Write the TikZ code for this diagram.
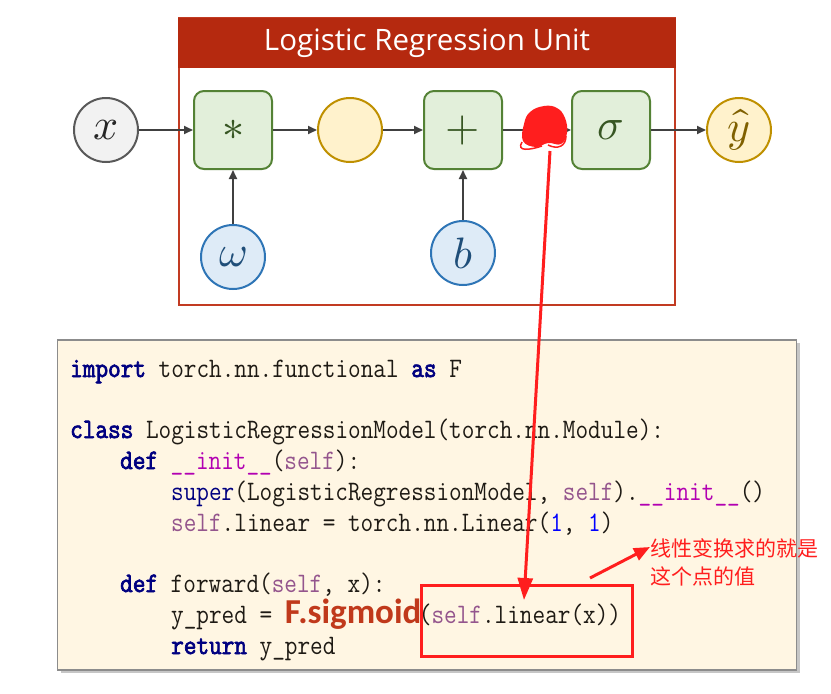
\documentclass[tikz,border=0pt]{standalone}
\usepackage{fontspec}
\usepackage{unicode-math}
\setmathfont{Latin Modern Math}
\newfontfamily\titlefont{Open Sans}
\newfontfamily\codefont[FakeStretch=0.87, BoldFont={Latin Modern Mono},
  BoldFeatures={FakeBold=2.5}]{Latin Modern Mono}
\newfontfamily\sigfont{Carlito}
\newfontfamily\cjk{Noto Sans CJK SC}
\usetikzlibrary{positioning,arrows.meta,shadows}

\definecolor{unitred}{HTML}{B5290F}
\definecolor{unitedge}{HTML}{C23B22}
\definecolor{opfill}{HTML}{E2EFDA}
\definecolor{opedge}{HTML}{548235}
\definecolor{optext}{HTML}{375623}
\definecolor{linfill}{HTML}{FFF2CC}
\definecolor{linedge}{HTML}{BF9000}
\definecolor{outtext}{HTML}{7F6000}
\definecolor{parfill}{HTML}{DEEBF7}
\definecolor{paredge}{HTML}{2E75B6}
\definecolor{partext}{HTML}{1F4E79}
\definecolor{infill}{HTML}{F2F2F2}
\definecolor{inedge}{HTML}{595959}
\definecolor{intext}{HTML}{262626}
\definecolor{arrgray}{HTML}{404040}
\definecolor{codebg}{HTML}{FFF6E3}
\definecolor{codeedge}{HTML}{8C8C8C}
\definecolor{codetext}{HTML}{1E1A14}
\definecolor{kwblue}{HTML}{000080}
\definecolor{selfpurple}{HTML}{94558D}
\definecolor{magic}{HTML}{B200B2}
\definecolor{numblue}{HTML}{0000FF}
\definecolor{sigred}{HTML}{C0391B}
\definecolor{markred}{HTML}{FF1E1E}

% code colouring
\newcommand\kw[1]{\textcolor{kwblue}{\bfseries #1}}
\newcommand\slf{\textcolor{selfpurple}{self}}
\newcommand\mgc[1]{\textcolor{magic}{#1}}
\newcommand\numlit[1]{\textcolor{numblue}{#1}}

\begin{document}
\begin{tikzpicture}[x=1pt, y=-1pt,
    op/.style   ={draw=opedge, fill=opfill, line width=2pt, rounded corners=10pt,
                  minimum width=78pt, minimum height=78pt, text=optext,
                  font=\fontsize{44}{44}\selectfont},
    var/.style  ={circle, line width=2pt, minimum size=64pt, inner sep=0pt,
                  font=\fontsize{44}{44}\selectfont},
    invar/.style={var, draw=inedge, fill=infill, text=intext},
    parvar/.style={var, draw=paredge, fill=parfill, text=partext},
    linvar/.style={var, draw=linedge, fill=linfill, text=outtext},
    arr/.style  ={-{Triangle[length=9pt,width=8pt]}, line width=1.8pt, draw=arrgray},
    codeline/.style={anchor=base west, inner sep=0pt, text=codetext,
                  font=\codefont\fontsize{28.2}{30}\selectfont},
    redarr/.style={-{Triangle[length=22pt,width=15pt]}, line width=3pt, draw=markred}
  ]
  \useasboundingbox (0,0) rectangle (831,694);

  % logistic regression unit
  \node[draw=unitedge, line width=2pt, minimum width=496pt, minimum height=287pt,
        inner sep=0pt] (unit) at (427,161) {};
  \node[fill=unitred, minimum width=498pt, minimum height=50pt, inner sep=0pt,
        text=white, font=\titlefont\fontsize{29.5}{29.5}\selectfont] (title) at (427,43)
        {Logistic Regression Unit};

  \node[invar]                      (x)   at (106,130) {$x$};
  \node[op, right=54pt of x]        (mul) {$*$};
  \node[linvar, right=44pt of mul]  (lin) {};
  \node[op, right=40pt of lin]      (add) {$+$};
  \node[op, right=68pt of add]      (sig) {$\sigma$};
  \node[linvar, right=55pt of sig]  (yhat) {$\hat{y}$};
  \node[parvar, below=54pt of mul]  (w)   {$\omega$};
  \node[parvar, below=50pt of add]  (b)   {$b$};

  \draw[arr] (x) -- (mul);
  \draw[arr] (mul) -- (lin);
  \draw[arr] (lin) -- (add);
  \draw[arr] (add) -- (sig);
  \draw[arr] (sig) -- (yhat);
  \draw[arr] (w) -- (mul);
  \draw[arr] (b) -- (add);

  % red scribble on the linear output
  \coordinate (dot) at (550,151);
  \fill[markred] plot[smooth cycle, tension=0.7] coordinates
    {(524,124) (530,112) (544,106) (557,108) (565,118) (567,133) (561,144)
     (548,143) (536,147) (523,141)};
  \draw[markred, line width=1.5pt] (522,142) .. controls (516,152) and (530,150) .. (542,146);
  \draw[markred, line width=1.5pt] (548,145) .. controls (558,150) and (566,146) .. (566,136);

  % code
  \node[draw=codeedge, fill=codebg, line width=1.5pt, minimum width=739pt,
        minimum height=330pt, inner sep=0pt,
        drop shadow={shadow xshift=3pt, shadow yshift=-3pt, opacity=0.45}]
        (code) at (427,505) {};
  \node[codeline] (c1) at (70,377)  {\kw{import} torch.nn.functional \kw{as} F};
  \node[codeline] (c2) at (70,438)  {\kw{class} LogisticRegressionModel(torch.nn.Module):};
  \node[codeline] (c3) at (120,469) {\kw{def} \mgc{\_\_init\_\_}(\slf):};
  \node[codeline] (c4) at (171,500) {\textcolor{kwblue}{super}(LogisticRegressionModel, \slf).\mgc{\_\_init\_\_}()};
  \node[codeline] (c5) at (171,531) {\slf.linear = torch.nn.Linear(\numlit{1}, \numlit{1})};
  \node[codeline] (c6) at (120,592) {\kw{def} forward(\slf, x):};
  \node[codeline] (c7) at (171,623) {y\_pred = \makebox[134pt][l]{\sigfont\bfseries\fontsize{35}{35}\selectfont\textcolor{sigred}{F.sigmoid}}(\slf.linear(x))};
  \node[codeline] (c8) at (171,654) {\kw{return} y\_pred};

  % highlight and notes
  \node[draw=markred, line width=2.5pt, minimum width=211pt, minimum height=71pt,
        inner sep=0pt] (focus) at (527,621) {};
  \coordinate (hit) at (524,600);
  \draw[redarr] (dot) -- (hit);

  \node[anchor=north west, inner sep=0pt, align=left, text=markred,
        font=\cjk\fontsize{21}{28}\selectfont] (note) at (650,538)
        {线性变换求的就是\\这个点的值};
  \coordinate (hint) at (590,578);
  \draw[-{Triangle[length=16pt,width=13pt]}, line width=3pt, draw=markred]
    (hint) -- ([yshift=-9pt]note.north west);
\end{tikzpicture}
\end{document}
